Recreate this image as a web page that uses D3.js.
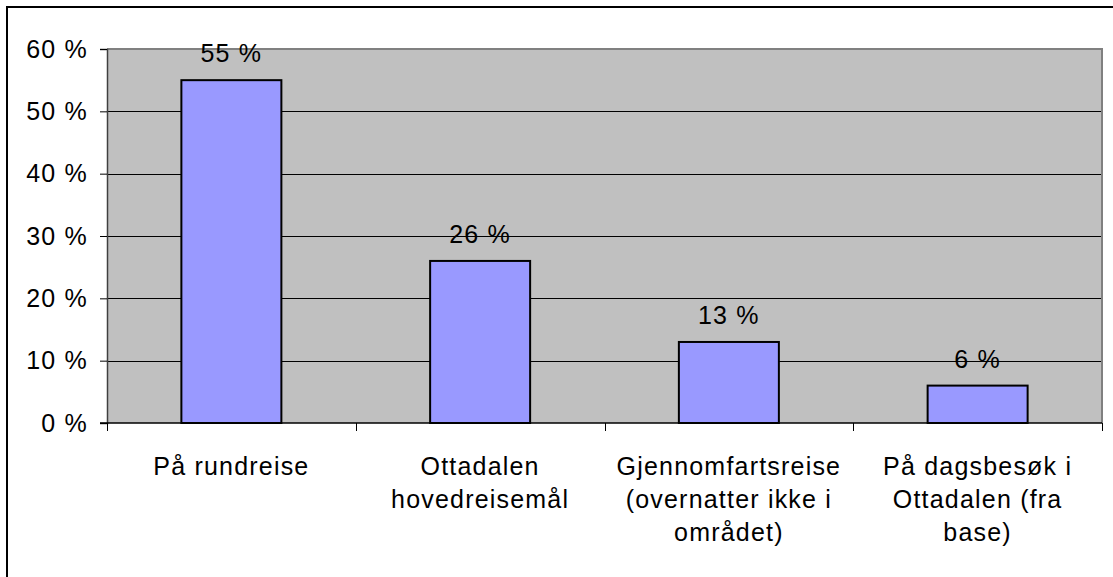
<!DOCTYPE html>
<html>
<head>
<meta charset="utf-8">
<script src="https://cdn.jsdelivr.net/npm/d3@7"></script>
<style>
  html, body { margin: 0; padding: 0; background: #fff; }
  svg text { font-family: "Liberation Sans", Arial, sans-serif; fill: #000; }
</style>
</head>
<body>
<svg id="chart" width="1113" height="577"></svg>
<script>
const categories = [
  ["På rundreise"],
  ["Ottadalen", "hovedreisemål"],
  ["Gjennomfartsreise", "(overnatter ikke i", "området)"],
  ["På dagsbesøk i", "Ottadalen (fra", "base)"]
];
const values = [55, 26, 13, 6];
const valueLabels = ["55 %", "26 %", "13 %", "6 %"];
const yTicks = [0, 10, 20, 30, 40, 50, 60];

const svg = d3.select("#chart");
const plot = { left: 107, right: 1102, top: 49, bottom: 423 };
const FS = "25px", LS = "1.2px";

// outer frame
svg.append("rect").attr("x", 7).attr("y", 7).attr("width", 1120).attr("height", 590)
  .attr("fill", "#fff").attr("stroke", "#000").attr("stroke-width", 2);

const x = d3.scaleBand().domain(d3.range(categories.length))
  .range([plot.left, plot.right]).paddingInner(0).paddingOuter(0);
const y = d3.scaleLinear().domain([0, 60]).range([plot.bottom, plot.top]);

// plot background
svg.append("rect").attr("x", plot.left).attr("y", plot.top)
  .attr("width", plot.right - plot.left).attr("height", plot.bottom - plot.top)
  .attr("fill", "#C0C0C0");

// gridlines
svg.append("g").selectAll("line").data(yTicks.filter(d => d > 0 && d < 60)).join("line")
  .attr("x1", plot.left).attr("x2", plot.right)
  .attr("y1", d => Math.round(y(d)) + 0.5).attr("y2", d => Math.round(y(d)) + 0.5)
  .attr("stroke", "#000").attr("stroke-width", 1);

// top and right border (gray)
svg.append("path")
  .attr("d", `M${plot.left},${plot.top} H${plot.right} V${plot.bottom}`)
  .attr("fill", "none").attr("stroke", "#808080").attr("stroke-width", 2);

// bars
const barW = 100;
svg.append("g").selectAll("rect").data(values).join("rect")
  .attr("x", (d, i) => x(i) + x.bandwidth() / 2 - barW / 2)
  .attr("y", d => y(d))
  .attr("width", barW)
  .attr("height", d => y(0) - y(d))
  .attr("fill", "#9999FF").attr("stroke", "#000").attr("stroke-width", 2);

// value labels
svg.append("g").selectAll("text").data(values).join("text")
  .attr("x", (d, i) => x(i) + x.bandwidth() / 2)
  .attr("y", d => y(d) - 18)
  .attr("text-anchor", "middle")
  .style("font-size", FS).style("letter-spacing", LS)
  .text((d, i) => valueLabels[i]);

// y axis
const yAxis = d3.axisLeft(y).tickValues(yTicks).tickSize(7).tickPadding(12)
  .tickFormat(d => d + " %");
const gy = svg.append("g").attr("transform", `translate(${plot.left},0)`).call(yAxis);
gy.select(".domain").attr("stroke", "#404040").attr("stroke-width", 1.5);
gy.selectAll(".tick line").attr("stroke", "#000");
gy.selectAll(".tick text").style("font-size", FS).style("letter-spacing", LS)
  .style("font-family", '"Liberation Sans", Arial, sans-serif').attr("fill", "#000");

// x axis baseline
svg.append("line").attr("x1", plot.left - 7).attr("x2", plot.right)
  .attr("y1", plot.bottom).attr("y2", plot.bottom)
  .attr("stroke", "#000").attr("stroke-width", 1.5);

// x ticks at category boundaries
const bounds = d3.range(categories.length + 1).map(i => plot.left + i * x.bandwidth());
svg.append("g").selectAll("line").data(bounds).join("line")
  .attr("x1", d => Math.round(d) + 0.5).attr("x2", d => Math.round(d) + 0.5)
  .attr("y1", plot.bottom).attr("y2", plot.bottom + 8)
  .attr("stroke", "#000").attr("stroke-width", 1);

// x labels
const lineH = 33;
const xl = svg.append("g").selectAll("text").data(categories).join("text")
  .attr("x", (d, i) => x(i) + x.bandwidth() / 2)
  .attr("y", 475)
  .attr("text-anchor", "middle")
  .style("font-size", FS).style("letter-spacing", LS);
xl.selectAll("tspan").data(d => d).join("tspan")
  .attr("x", function() { return d3.select(this.parentNode).attr("x"); })
  .attr("dy", (d, j) => j === 0 ? 0 : lineH)
  .text(d => d);
</script>
</body>
</html>
